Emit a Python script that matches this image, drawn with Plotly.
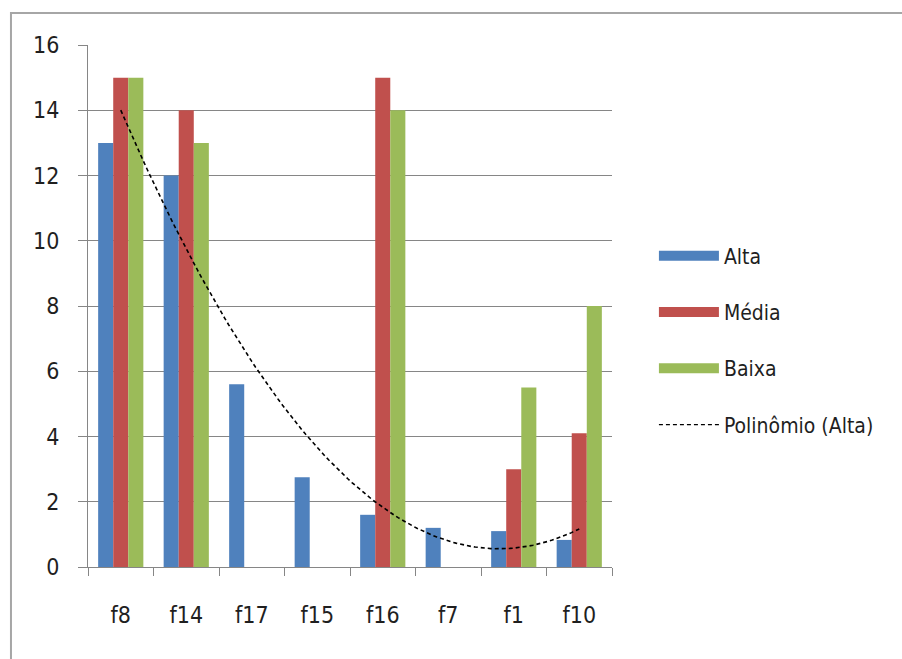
import numpy as np
import plotly.graph_objects as go

# Categories and series values
categories = ["f8", "f14", "f17", "f15", "f16", "f7", "f1", "f10"]
alta = [13, 12, 5.6, 2.75, 1.6, 1.2, 1.1, 0.83]
media = [15, 14, 0, 0, 15, 0, 3, 4.1]
baixa = [15, 13, 0, 0, 14, 0, 5.5, 8]
y_ticks = [0, 2, 4, 6, 8, 10, 12, 14, 16]

colors = {"Alta": "#4F81BD", "Média": "#C0504D", "Baixa": "#9BBB59"}
font_family = "DejaVu Sans Condensed, Liberation Sans Narrow, Roboto, sans-serif"
text_color = "#1f1f1f"

fig = go.Figure()

for name, vals in [("Alta", alta), ("Média", media), ("Baixa", baixa)]:
    fig.add_trace(go.Bar(
        x=categories, y=vals, name=name, marker_color=colors[name],
        marker_line_width=0, showlegend=False,
    ))

# Second-order polynomial trend line of "Alta" (least squares over category index)
idx = np.arange(len(categories), dtype=float)
coef = np.polyfit(idx, alta, 2)
xs = np.linspace(idx[0], idx[-1], 120)
fig.add_trace(go.Scatter(
    x=xs, y=np.polyval(coef, xs), xaxis="x2", mode="lines",
    line=dict(color="#000000", width=1.6, dash="4px,3px"),
    name="Polinômio (Alta)", showlegend=False, hoverinfo="skip",
))

# Legend entries (wide swatches)
for i, name in enumerate(["Alta", "Média", "Baixa"]):
    fig.add_trace(go.Scatter(
        x=[None], y=[None], mode="lines", name=name,
        line=dict(color=colors[name], width=12),
        legendgroup=f"g{i}",
    ))
fig.add_trace(go.Scatter(
    x=[None], y=[None], mode="lines", name="Polinômio (Alta)",
    line=dict(color="#000000", width=1.4, dash="4px,3px"),
    legendgroup="g3",
))

fig.update_layout(
    width=902, height=659,
    margin=dict(l=88, r=290, t=45, b=92),
    paper_bgcolor="white", plot_bgcolor="white",
    barmode="group", bargap=0.31, bargroupgap=0,
    font=dict(family=font_family, size=21, color=text_color),
    xaxis=dict(
        type="category", tickson="boundaries", ticks="outside", ticklen=8,
        tickcolor="#868686", showline=True, linecolor="#868686", linewidth=1,
        showgrid=False, ticklabelstandoff=27,
        tickfont=dict(family=font_family, size=23, color=text_color),
    ),
    xaxis2=dict(
        overlaying="x", range=[-0.5, len(categories) - 0.5], visible=False,
    ),
    yaxis=dict(
        range=[0, 16], tickvals=y_ticks, ticks="outside", ticklen=9,
        tickcolor="#868686", showline=True, linecolor="#868686", linewidth=1,
        showgrid=True, gridcolor="#868686", gridwidth=1, zeroline=False,
        ticklabelstandoff=14,
        tickfont=dict(family=font_family, size=23, color=text_color),
    ),
    legend=dict(
        x=1.08, y=0.635, xanchor="left", yanchor="top",
        itemwidth=60, tracegroupgap=26, bgcolor="rgba(0,0,0,0)",
        font=dict(family=font_family, size=21, color=text_color),
    ),
    shapes=[dict(
        type="rect", xref="paper", yref="paper",
        x0=-0.147, x1=1.7, y0=-0.4, y1=1.0613,
        line=dict(color="#a6a6a6", width=2), layer="below",
    )],
)

fig.write_html("out.html")
